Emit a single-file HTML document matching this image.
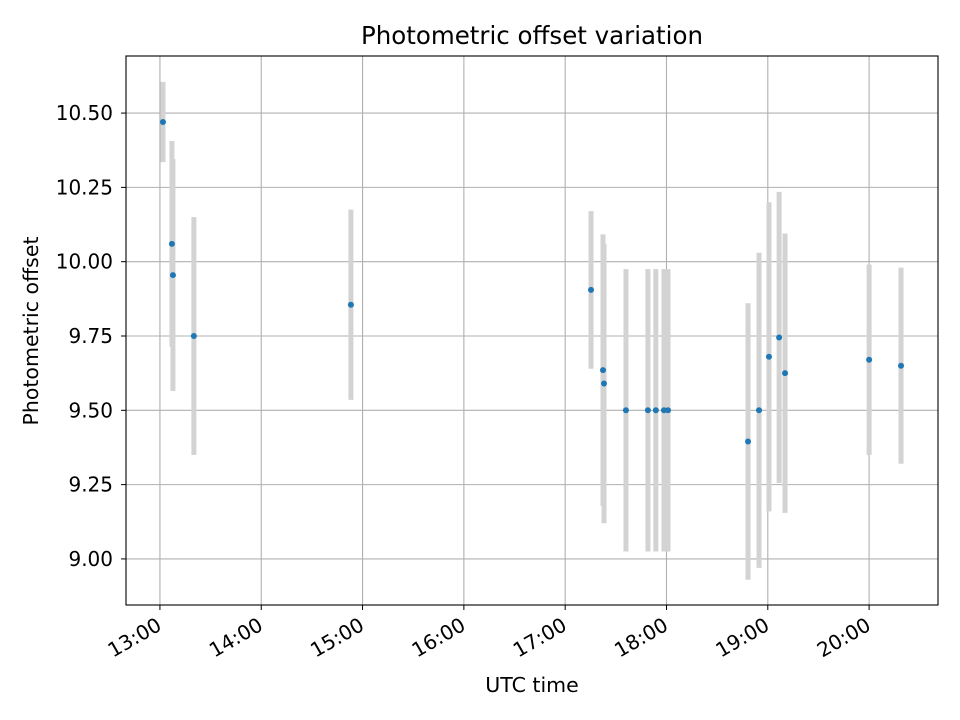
<!DOCTYPE html>
<html><head><meta charset="utf-8"><style>
body{margin:0;background:#fff}
svg{display:block;font-family:"DejaVu Sans","Liberation Sans",sans-serif}
</style></head><body>
<svg id="chart" width="960" height="720">
<rect x="0" y="0" width="960" height="720" fill="#fff"/>
<text x="532" y="44" text-anchor="middle" font-size="24.5">Photometric offset variation</text>
<text x="532" y="692" text-anchor="middle" font-size="20.5">UTC time</text>
<text transform="translate(38,331) rotate(-90)" text-anchor="middle" font-size="20.5">Photometric offset</text>
<g id="grid"></g><g id="bars"></g><g id="pts"></g><g id="axes"></g>
</svg>
<script>
// minutes after 13:00
const times=[1.8,7.1,7.7,20.1,113.1,255.3,262.4,263,276,289,293.7,298.5,300.9,348.3,354.8,360.7,366.7,370.2,420,438.9];
const values=[10.47,10.06,9.955,9.75,9.855,9.905,9.635,9.59,9.5,9.5,9.5,9.5,9.5,9.395,9.5,9.68,9.745,9.625,9.67,9.65];
const errors=[0.135,0.346,0.39,0.40,0.32,0.265,0.457,0.47,0.475,0.475,0.475,0.475,0.475,0.465,0.53,0.52,0.49,0.47,0.32,0.33];
const xTicks=[0,60,120,180,240,300,360,420];
const xTickLabels=["13:00","14:00","15:00","16:00","17:00","18:00","19:00","20:00"];
const yTicks=[9.0,9.25,9.5,9.75,10.0,10.25,10.5];
const yTickLabels=["9.00","9.25","9.50","9.75","10.00","10.25","10.50"];

const L=126,R=938,T=56,B=605,xmin=-20.1,xmax=460.8,ymin=8.845,ymax=10.692;
const X=v=>L+(v-xmin)/(xmax-xmin)*(R-L);
const Y=v=>B-(v-ymin)/(ymax-ymin)*(B-T);
const NS="http://www.w3.org/2000/svg";
function mk(tag,parent,attrs){const e=document.createElementNS(NS,tag);for(const k in attrs)e.setAttribute(k,attrs[k]);document.getElementById(parent).appendChild(e);return e;}
xTicks.forEach((t,i)=>{
  const g=mk('line','grid',{x1:X(t),x2:X(t),y1:T,y2:B,stroke:'#b0b0b0','stroke-width':1.1});
  
  
  const tk=mk('line','axes',{x1:X(t),x2:X(t),y1:B,y2:B+5,stroke:'#000','stroke-width':1});
  
  
  const tx=mk('text','axes',{'text-anchor':'end','font-size':20,transform:`translate(${X(t)+3},${B+24}) rotate(-30)`});
  tx.textContent=xTickLabels[i];
  
  
});
yTicks.forEach((t,i)=>{
  const g=mk('line','grid',{x1:L,x2:R,y1:Y(t),y2:Y(t),stroke:'#b0b0b0','stroke-width':1.1});
  
  
  const tk=mk('line','axes',{x1:L-5,x2:L,y1:Y(t),y2:Y(t),stroke:'#000','stroke-width':1});
  
  
  const tx=mk('text','axes',{x:L-13,y:Y(t)+7,'text-anchor':'end','font-size':20});
  tx.textContent=yTickLabels[i];
  
  
});
const fr=mk('rect','axes',{x:L,y:T,width:R-L,height:B-T,fill:'none',stroke:'#000','stroke-width':1.1});


times.forEach((t,i)=>{
  const b=mk('line','bars',{x1:X(t),x2:X(t),y1:Y(values[i]+errors[i]),y2:Y(values[i]-errors[i]),stroke:'#d3d3d3','stroke-width':5});
  
  
  const p=mk('circle','pts',{cx:X(t),cy:Y(values[i]),r:3,fill:'#1f77b4'});
  
  
});
</script>
</body></html>
